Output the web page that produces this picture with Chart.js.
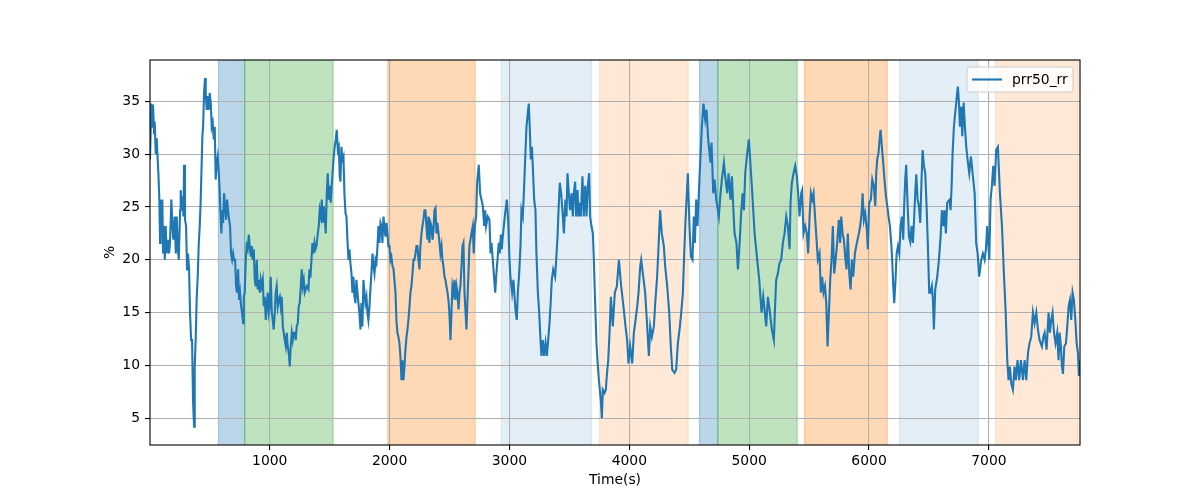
<!DOCTYPE html>
<html>
<head>
<meta charset="utf-8">
<script src="https://cdn.jsdelivr.net/npm/chart.js@4.4.0/dist/chart.umd.min.js"></script>
<style>
  html, body { margin: 0; padding: 0; background: #fff; }
</style>
</head>
<body>
<canvas id="myChart" width="1200" height="500"></canvas>
<script>
// time (s) and prr50_rr (%)
var tempo = [
  1, 12, 21, 26, 35, 40, 49, 57, 63, 71,
  79, 85, 90, 99, 104, 110, 118, 124, 132, 140,
  152, 160, 168, 179, 188, 196, 207, 216, 224, 232,
  241, 252, 257, 266, 271, 280, 285, 293, 302, 310,
  318, 327, 335, 344, 352, 360, 369, 374, 382, 391,
  399, 408, 416, 424, 433, 438, 444, 452, 460, 466,
  474, 483, 491, 499, 508, 516, 524, 533, 541, 549,
  558, 566, 574, 583, 588, 597, 602, 611, 619, 627,
  636, 644, 652, 661, 669, 677, 686, 694, 702, 711,
  719, 727, 736, 744, 752, 761, 769, 778, 783, 791,
  800, 808, 816, 825, 833, 842, 850, 858, 867, 875,
  883, 892, 900, 908, 917, 925, 933, 942, 950, 958,
  967, 975, 983, 992, 1000, 1008, 1017, 1025, 1033, 1042,
  1050, 1058, 1067, 1075, 1084, 1092, 1100, 1109, 1117, 1125,
  1134, 1142, 1150, 1159, 1167, 1175, 1184, 1192, 1200, 1209,
  1217, 1225, 1234, 1242, 1250, 1259, 1267, 1275, 1284, 1292,
  1309, 1323, 1331, 1339, 1348, 1356, 1364, 1373, 1381, 1390,
  1401, 1409, 1417, 1426, 1434, 1442, 1451, 1459, 1467, 1476,
  1484, 1492, 1501, 1509, 1517, 1526, 1534, 1542, 1551, 1559,
  1568, 1576, 1584, 1590, 1598, 1606, 1615, 1623, 1632, 1640,
  1648, 1657, 1665, 1673, 1682, 1690, 1698, 1707, 1715, 1723,
  1732, 1740, 1748, 1757, 1765, 1773, 1782, 1790, 1798, 1807,
  1815, 1823, 1832, 1840, 1848, 1857, 1865, 1874, 1882, 1890,
  1899, 1907, 1915, 1924, 1932, 1940, 1949, 1957, 1965, 1974,
  1982, 1990, 1999, 2007, 2015, 2024, 2032, 2040, 2049, 2057,
  2065, 2074, 2082, 2090, 2099, 2107, 2116, 2124, 2132, 2141,
  2149, 2157, 2166, 2174, 2182, 2191, 2199, 2207, 2216, 2224,
  2232, 2241, 2249, 2257, 2266, 2274, 2282, 2291, 2299, 2307,
  2316, 2324, 2332, 2341, 2349, 2358, 2366, 2374, 2383, 2391,
  2399, 2408, 2416, 2424, 2433, 2441, 2449, 2458, 2466, 2474,
  2483, 2491, 2499, 2508, 2516, 2524, 2533, 2541, 2549, 2558,
  2566, 2575, 2583, 2591, 2600, 2608, 2616, 2625, 2641, 2652,
  2666, 2683, 2694, 2702, 2711, 2722, 2730, 2744, 2755, 2766,
  2778, 2789, 2797, 2805, 2819, 2833, 2842, 2850, 2861, 2881,
  2889, 2900, 2911, 2919, 2928, 2936, 2944, 2953, 2964, 2978,
  2989, 3000, 3008, 3022, 3033, 3050, 3061, 3070, 3081, 3092,
  3100, 3111, 3120, 3131, 3142, 3153, 3161, 3170, 3178, 3187,
  3195, 3206, 3217, 3225, 3237, 3248, 3259, 3267, 3278, 3289,
  3301, 3312, 3323, 3334, 3345, 3353, 3365, 3381, 3390, 3401,
  3412, 3420, 3431, 3442, 3454, 3467, 3476, 3484, 3495, 3506,
  3518, 3529, 3537, 3548, 3556, 3568, 3576, 3587, 3595, 3609,
  3620, 3632, 3643, 3654, 3665, 3673, 3684, 3696, 3704, 3712,
  3726, 3734, 3746, 3754, 3762, 3771, 3779, 3793, 3804, 3812,
  3824, 3835, 3846, 3862, 3879, 3896, 3913, 3932, 3951, 3968,
  3982, 3993, 4007, 4024, 4038, 4052, 4066, 4077, 4091, 4099,
  4116, 4132, 4146, 4163, 4174, 4188, 4205, 4216, 4232, 4244,
  4257, 4271, 4288, 4299, 4316, 4333, 4346, 4358, 4377, 4391,
  4405, 4422, 4433, 4447, 4458, 4469, 4488, 4502, 4513, 4527,
  4538, 4547, 4558, 4569, 4586, 4605, 4619, 4633, 4644, 4658,
  4677, 4686, 4700, 4711, 4725, 4747, 4761, 4772, 4789, 4800,
  4817, 4828, 4844, 4856, 4864, 4878, 4894, 4906, 4919, 4933,
  4945, 4956, 4967, 4981, 4997, 5008, 5022, 5034, 5045, 5067,
  5084, 5103, 5117, 5131, 5142, 5156, 5173, 5189, 5206, 5214,
  5225, 5239, 5253, 5267, 5281, 5295, 5309, 5323, 5337, 5345,
  5356, 5370, 5384, 5398, 5409, 5420, 5434, 5442, 5453, 5467,
  5481, 5492, 5504, 5515, 5526, 5537, 5551, 5562, 5573, 5587,
  5598, 5609, 5620, 5632, 5643, 5654, 5665, 5676, 5687, 5698,
  5709, 5721, 5734, 5748, 5759, 5768, 5779, 5790, 5801, 5812,
  5823, 5835, 5846, 5857, 5868, 5882, 5893, 5904, 5915, 5926,
  5938, 5946, 5957, 5968, 5982, 5990, 6001, 6015, 6027, 6040,
  6052, 6060, 6068, 6079, 6088, 6096, 6107, 6118, 6129, 6141,
  6152, 6163, 6174, 6185, 6193, 6202, 6210, 6221, 6230, 6241,
  6252, 6263, 6274, 6285, 6294, 6302, 6310, 6321, 6333, 6344,
  6355, 6366, 6377, 6385, 6394, 6405, 6416, 6427, 6438, 6447,
  6458, 6469, 6480, 6491, 6502, 6513, 6524, 6533, 6541, 6552,
  6569, 6583, 6597, 6608, 6619, 6630, 6641, 6652, 6672, 6680,
  6689, 6697, 6708, 6719, 6730, 6741, 6750, 6758, 6769, 6778,
  6789, 6800, 6811, 6822, 6836, 6850, 6864, 6881, 6894, 6906,
  6919, 6936, 6950, 6964, 6975, 6986, 6995, 7003, 7014, 7025,
  7036, 7047, 7061, 7075, 7092, 7109, 7125, 7139, 7153, 7164,
  7175, 7186, 7200, 7214, 7225, 7239, 7253, 7267, 7284, 7298,
  7312, 7326, 7339, 7353, 7367, 7381, 7395, 7409, 7423, 7442,
  7454, 7465, 7481, 7498, 7509, 7520, 7531, 7543, 7556, 7570,
  7581, 7590, 7601, 7609, 7618, 7629, 7643, 7654, 7665, 7676,
  7687, 7698, 7709, 7721, 7732, 7743, 7751, 7760
];

var prr50 = [
  29.5, 34.8, 32.6, 34.7, 32.0, 33.1, 30.0, 31.5, 30.0, 28.2,
  25.7, 21.6, 25.7, 23.2, 25.7, 20.6, 23.2, 20.0, 23.2, 20.6,
  21.9, 20.6, 21.6, 25.7, 23.2, 21.9, 24.1, 20.6, 24.1, 21.3,
  20.0, 24.7, 26.6, 24.7, 26.0, 24.1, 29.0, 23.8, 23.2, 19.1,
  20.6, 19.1, 15.0, 12.4, 12.4, 6.7, 4.2, 9.9, 12.4, 16.5,
  18.4, 21.6, 23.2, 25.7, 29.5, 31.7, 32.6, 35.8, 37.2, 35.8,
  34.2, 35.5, 34.2, 35.8, 34.8, 32.6, 33.0, 31.4, 32.6, 27.6,
  29.2, 29.8, 28.5, 26.3, 24.7, 22.5, 24.7, 23.5, 26.3, 25.1,
  23.8, 25.7, 24.7, 23.8, 23.2, 20.6, 20.0, 20.6, 20.0, 20.0,
  17.5, 16.9, 19.1, 16.2, 16.9, 15.6, 15.0, 14.0, 16.5, 16.9,
  20.0, 21.3, 21.0, 22.4, 21.3, 20.3, 21.3, 20.0, 21.0, 18.1,
  17.5, 20.0, 17.2, 18.1, 16.9, 18.1, 17.5, 18.1, 15.6, 16.5,
  14.3, 15.6, 16.9, 15.0, 15.6, 18.4, 15.0, 14.3, 13.4, 15.0,
  16.9, 17.5, 15.6, 16.2, 16.5, 15.6, 16.5, 13.7, 13.1, 12.4,
  11.8, 13.1, 11.8, 11.2, 9.9, 11.8, 13.1, 12.4, 13.1, 13.1,
  12.4, 13.7, 14.0, 15.6, 15.9, 17.5, 19.1, 17.5, 18.1, 16.9,
  17.5, 17.2, 19.1, 18.3, 20.0, 21.6, 20.6, 21.6, 21.0, 21.3,
  22.5, 23.2, 24.7, 24.1, 25.7, 23.5, 25.1, 24.1, 22.5, 26.3,
  28.2, 25.7, 27.0, 25.4, 27.0, 28.5, 29.8, 30.7, 31.4, 32.3,
  30.4, 30.7, 27.9, 27.4, 30.7, 29.5, 29.8, 26.3, 24.4, 24.1,
  21.9, 20.0, 21.0, 19.7, 18.7, 16.9, 18.4, 16.5, 15.9, 18.1,
  16.9, 15.9, 15.0, 13.4, 15.9, 13.7, 18.1, 16.9, 15.9, 16.5,
  15.0, 14.3, 15.6, 17.2, 18.7, 20.6, 19.4, 18.7, 20.0, 19.7,
  21.3, 23.2, 21.6, 23.5, 23.2, 21.6, 24.1, 23.2, 22.2, 23.5,
  22.5, 21.3, 21.3, 20.0, 20.3, 19.4, 19.2, 18.1, 16.9, 14.3,
  13.1, 12.7, 12.1, 10.9, 8.6, 10.5, 8.6, 9.9, 11.5, 12.7,
  13.4, 14.3, 15.6, 16.9, 17.5, 18.7, 20.0, 20.0, 20.6, 21.3,
  21.3, 20.0, 19.1, 21.3, 22.5, 23.2, 23.8, 24.7, 24.7, 23.2,
  21.9, 24.1, 21.6, 23.5, 23.2, 21.9, 22.8, 24.7, 24.9, 22.5,
  23.5, 22.5, 21.6, 20.6, 21.3, 20.0, 19.4, 18.4, 18.1, 17.5,
  16.9, 16.2, 15.0, 12.4, 15.0, 17.5, 16.9, 18.1, 16.2, 17.5,
  16.9, 15.3, 16.9, 17.5, 19.4, 21.3, 21.6, 16.9, 13.4, 16.9,
  21.3, 22.5, 23.2, 20.6, 23.2, 24.1, 27.3, 29.0, 26.3, 25.7,
  25.1, 23.2, 24.7, 23.2, 24.1, 23.8, 20.6, 21.6, 20.0, 16.9,
  18.4, 20.0, 21.6, 20.6, 22.4, 21.0, 22.2, 23.2, 24.4, 25.7,
  23.8, 20.0, 18.4, 16.9, 18.1, 15.3, 14.3, 16.9, 18.7, 21.3,
  24.7, 24.1, 26.3, 29.5, 32.6, 33.9, 34.8, 32.3, 29.5, 30.7,
  28.8, 25.7, 24.7, 20.6, 16.9, 15.0, 12.4, 10.9, 12.4, 10.9,
  12.1, 10.9, 12.4, 14.0, 16.2, 18.1, 19.1, 18.4, 20.0, 22.2,
  25.4, 27.3, 26.3, 24.7, 22.5, 25.7, 24.1, 28.2, 26.3, 24.7,
  26.3, 24.1, 26.3, 27.4, 24.1, 26.6, 24.1, 25.4, 24.1, 27.9,
  24.1, 27.0, 24.1, 27.0, 28.2, 24.1, 23.2, 22.5, 20.0, 16.9,
  12.1, 10.5, 8.6, 7.7, 6.7, 5.0, 7.7, 7.4, 7.7, 9.0,
  10.5, 13.1, 16.5, 13.7, 16.9, 17.5, 20.0, 17.5, 15.6, 13.7,
  12.4, 10.2, 11.8, 10.2, 13.1, 14.3, 15.6, 16.9, 19.4, 20.0,
  18.4, 16.9, 14.3, 10.9, 13.7, 12.7, 13.7, 15.9, 18.4, 21.3,
  24.7, 22.5, 21.3, 19.4, 17.5, 15.0, 11.8, 9.6, 9.3, 9.6,
  12.1, 13.7, 15.0, 16.9, 20.6, 23.8, 28.2, 23.2, 20.3, 20.0,
  24.1, 21.6, 25.7, 23.2, 27.9, 32.6, 34.8, 33.3, 34.2, 31.4,
  29.2, 31.1, 26.3, 27.6, 25.7, 24.1, 26.3, 27.6, 29.2, 27.9,
  26.3, 28.2, 25.7, 27.9, 25.7, 22.5, 21.6, 19.1, 21.3, 24.4,
  26.3, 24.7, 28.2, 29.8, 31.4, 29.5, 27.0, 24.7, 22.5, 20.0,
  18.1, 15.0, 16.5, 15.0, 13.7, 16.5, 15.0, 13.4, 12.4, 15.0,
  18.1, 18.7, 19.7, 20.0, 21.6, 22.5, 24.1, 23.2, 21.0, 25.4,
  27.3, 28.2, 28.9, 27.9, 26.3, 24.1, 26.3, 26.6, 22.5, 23.2,
  22.5, 20.6, 24.1, 26.3, 25.7, 26.3, 23.8, 21.9, 20.0, 20.6,
  16.9, 18.4, 16.9, 17.5, 15.9, 11.8, 15.0, 18.1, 20.0, 23.2,
  18.7, 20.0, 21.6, 23.8, 21.6, 24.1, 22.5, 21.9, 20.3, 19.1,
  22.5, 18.7, 17.2, 20.0, 18.4, 20.6, 21.3, 21.9, 22.5, 23.2,
  24.4, 26.3, 23.8, 24.4, 22.8, 21.0, 25.4, 25.7, 27.6, 27.0,
  25.1, 28.2, 29.5, 30.1, 31.4, 32.3, 30.7, 29.2, 27.6, 26.0,
  25.1, 24.1, 23.2, 21.6, 20.0, 17.5, 15.9, 18.1, 20.6, 21.3,
  20.6, 23.2, 24.1, 21.9, 25.4, 27.6, 29.0, 25.4, 22.2, 21.7,
  23.2, 21.6, 24.1, 26.3, 28.1, 25.7, 25.1, 23.5, 27.6, 30.4,
  28.9, 28.2, 25.1, 21.3, 16.9, 16.9, 17.5, 16.2, 13.4, 17.2,
  18.4, 20.0, 22.2, 24.7, 23.2, 24.7, 22.5, 25.4, 25.7, 24.7,
  27.0, 30.1, 32.6, 33.9, 35.2, 36.4, 34.9, 32.6, 34.5, 31.7,
  34.9, 32.6, 30.7, 29.5, 28.2, 29.8, 28.2, 26.3, 21.6, 20.6,
  18.4, 20.0, 20.6, 20.0, 21.0, 23.2, 21.6, 20.0, 25.7, 27.0,
  28.9, 27.0, 30.4, 30.7, 26.3, 23.2, 18.7, 15.3, 10.5, 8.6,
  9.9, 8.3, 7.7, 9.9, 8.6, 10.5, 8.6, 10.5, 8.6, 10.5,
  8.6, 11.2, 12.1, 12.7, 15.0, 14.0, 15.0, 13.4, 12.4, 11.8,
  12.7, 13.1, 11.5, 15.0, 13.1, 14.3, 15.0, 13.1, 12.1, 13.1,
  10.5, 13.1, 11.8, 9.9, 9.2, 11.8, 12.1, 13.7, 15.6, 16.2,
  14.3, 16.9, 16.2, 14.3, 12.1, 11.2, 9.0, 10.5
];

// shaded periods (start, end, kind)
var faixaInicio = [572, 791, 1985, 2933, 3751, 4586, 4738, 5462, 6255, 7056];
var faixaFim    = [791, 1529, 2714, 3684, 4491, 4738, 5401, 6152, 6911, 7745];
var faixaTipo   = ["azul", "verde", "laranja", "azulClaro", "laranjaClaro",
                   "azul", "verde", "laranja", "azulClaro", "laranjaClaro"];

var ticksX = [1000, 2000, 3000, 4000, 5000, 6000, 7000];
var ticksY = [5, 10, 15, 20, 25, 30, 35];
var nomeSerie = "prr50_rr";

var coresFaixa = {
  azul: "rgba(31,119,180,0.3)",
  verde: "rgba(44,160,44,0.3)",
  laranja: "rgba(255,127,14,0.3)",
  azulClaro: "rgba(31,119,180,0.12)",
  laranjaClaro: "rgba(255,127,14,0.17)"
};

var fonte = { family: "'DejaVu Sans', sans-serif", size: 13.9 };

var pontos = tempo.map(function (t, i) {
  return { x: t, y: prr50[i] };
});

// axvspan-like bands, under grid and line
var pluginFaixas = {
  id: "faixas",
  beforeDraw: function (chart) {
    var ctx = chart.ctx;
    var area = chart.chartArea;
    var sx = chart.scales.x;
    ctx.save();
    ctx.beginPath();
    ctx.rect(area.left, area.top, area.right - area.left, area.bottom - area.top);
    ctx.clip();
    for (var i = 0; i < faixaInicio.length; i++) {
      var x0 = sx.getPixelForValue(faixaInicio[i]);
      var x1 = sx.getPixelForValue(faixaFim[i]);
      var cor = coresFaixa[faixaTipo[i]];
      ctx.fillStyle = cor;
      ctx.fillRect(x0, area.top, x1 - x0, area.bottom - area.top);
      ctx.strokeStyle = cor;
      ctx.lineWidth = 1.3;
      ctx.beginPath();
      ctx.moveTo(x0, area.top); ctx.lineTo(x0, area.bottom);
      ctx.moveTo(x1, area.top); ctx.lineTo(x1, area.bottom);
      ctx.stroke();
    }
    ctx.restore();
  },
  afterDatasetsDraw: function (chart) {
    // frame (4 spines)
    var ctx = chart.ctx;
    var area = chart.chartArea;
    ctx.save();
    ctx.strokeStyle = "#000";
    ctx.lineWidth = 1.1;
    ctx.strokeRect(area.left, area.top, area.right - area.left, area.bottom - area.top);
    ctx.restore();
  },
  afterDraw: function (chart) {
    // legend box, upper right inside the axes
    var ctx = chart.ctx;
    var area = chart.chartArea;
    var w = 106, h = 25;
    var x = area.right - 7 - w;
    var y = area.top + 7;
    ctx.save();
    ctx.beginPath();
    ctx.roundRect(x, y, w, h, 3);
    ctx.fillStyle = "rgba(255,255,255,0.8)";
    ctx.fill();
    ctx.strokeStyle = "#cccccc";
    ctx.lineWidth = 1;
    ctx.stroke();
    ctx.strokeStyle = "#1f77b4";
    ctx.lineWidth = 2.1;
    ctx.beginPath();
    ctx.moveTo(x + 5, y + 12.5);
    ctx.lineTo(x + 35, y + 12.5);
    ctx.stroke();
    ctx.fillStyle = "#000";
    ctx.font = "13.9px 'DejaVu Sans', sans-serif";
    ctx.textBaseline = "middle";
    ctx.fillText(nomeSerie, x + 45, y + 13);
    ctx.restore();
  }
};

var ctx = document.getElementById("myChart");
var myChart = new Chart(ctx, {
  type: "line",
  data: {
    datasets: [
      {
        label: nomeSerie,
        data: pontos,
        borderColor: "#1f77b4",
        borderWidth: 2.1,
        pointRadius: 0,
        tension: 0,
        fill: false
      }
    ]
  },
  options: {
    responsive: false,
    devicePixelRatio: 1,
    animation: false,
    parsing: false,
    layout: { padding: { left: 100, right: 120, top: 60, bottom: 0 } },
    plugins: {
      legend: { display: false },
      tooltip: { enabled: false }
    },
    scales: {
      x: {
        type: "linear",
        min: 1,
        max: 7760,
        afterBuildTicks: function (scale) {
          scale.ticks = ticksX.map(function (v) { return { value: v }; });
        },
        afterFit: function (scale) { scale.height = 55; },
        grid: { color: "#b0b0b0", lineWidth: 1.1, tickColor: "#000", tickLength: 5, tickWidth: 1.1 },
        border: { display: false },
        ticks: { color: "#000", font: fonte, padding: 3, maxRotation: 0,
          callback: function (v) { return String(v); } },
        title: { display: true, text: "Time(s)", color: "#000", font: fonte,
          padding: { top: 0, bottom: 11 } }
      },
      y: {
        min: 2.47,
        max: 38.92,
        afterBuildTicks: function (scale) {
          scale.ticks = ticksY.map(function (v) { return { value: v }; });
        },
        afterFit: function (scale) { scale.width = 50; },
        grid: { color: "#b0b0b0", lineWidth: 1.1, tickColor: "#000", tickLength: 5, tickWidth: 1.1 },
        border: { display: false },
        ticks: { color: "#000", font: fonte, padding: 5,
          callback: function (v) { return String(v); } },
        title: { display: true, text: "%", color: "#000", font: fonte,
          padding: { top: 2, bottom: 0 } }
      }
    }
  },
  plugins: [pluginFaixas]
});
</script>
</body>
</html>
